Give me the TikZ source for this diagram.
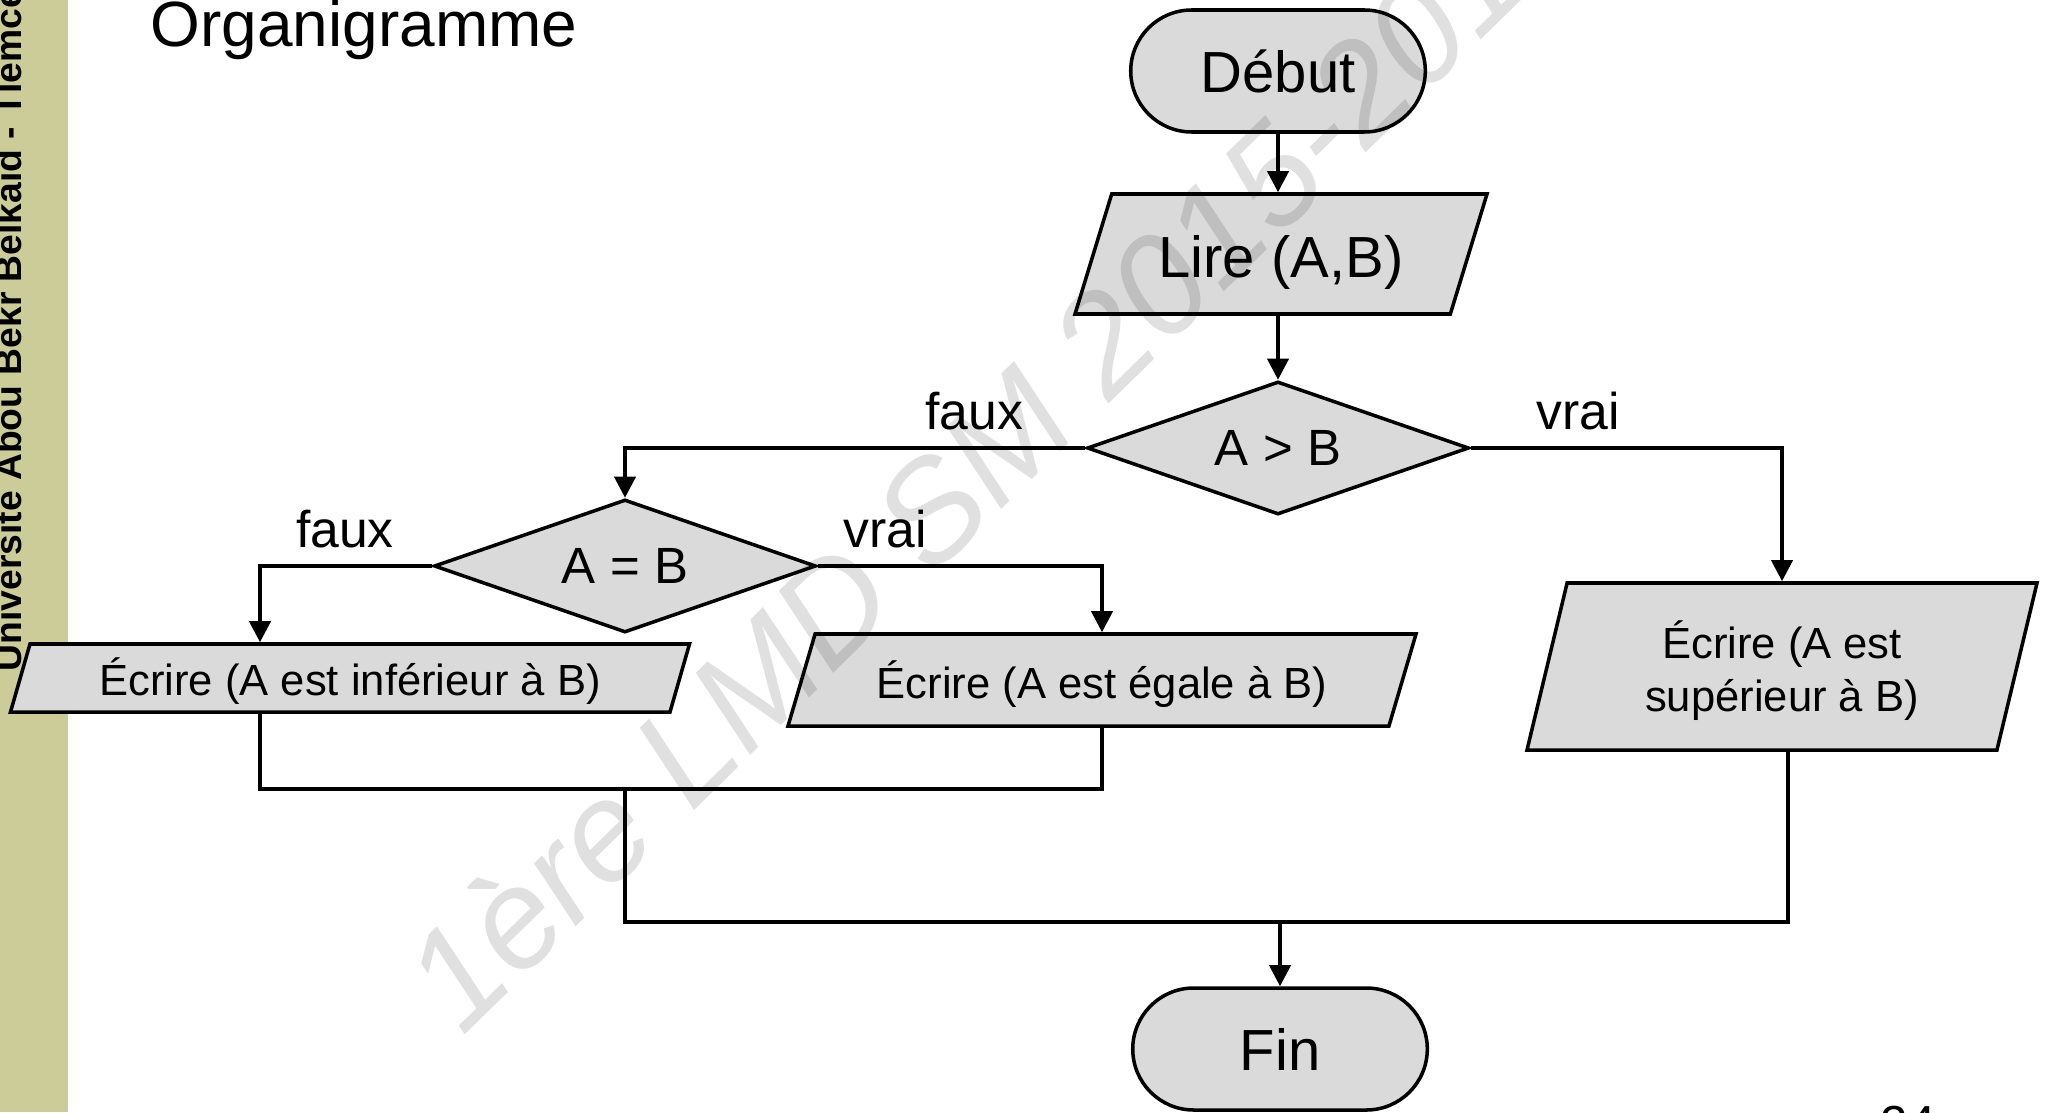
\documentclass[tikz,border=0pt]{standalone}
\usepackage{fontspec}
\setmainfont{Liberation Sans}
\usepackage{tikz}
\usetikzlibrary{shapes,arrows,arrows.meta,positioning}

\definecolor{sidebar}{RGB}{204,204,153}
\definecolor{boxgray}{RGB}{218,218,218}

\begin{document}
\begin{tikzpicture}
	\tikzstyle{Terminal}	= [rounded rectangle, draw, line width=1pt, fill=boxgray, minimum width=3.18cm, minimum height=1.22cm, font=\fontsize{16.5}{19}\selectfont]
	\tikzstyle{InOut}	= [trapezium, trapezium stretches body, draw, line width=1pt, fill=boxgray, inner sep=0pt, align=center]
	\tikzstyle{Decision}	= [diamond, aspect=2.87, draw, line width=1pt, fill=boxgray, minimum width=3.82cm, minimum height=1.33cm, inner sep=0pt, font=\fontsize{14.5}{17}\selectfont]
	\tikzstyle{Big}		= [font=\fontsize{16.5}{19}\selectfont]
	\tikzstyle{Small}	= [font=\fontsize{12.4}{14.9}\selectfont]
	\tikzstyle{Label}	= [anchor=base, font=\fontsize{14.7}{17}\selectfont]
	\tikzstyle{Flow}	= [line width=1.1pt]
	\tikzstyle{Arrow}	= [-{Triangle[width=6pt,length=6pt]}, line width=1.1pt]

	\useasboundingbox (0,0) rectangle (20.45,-11.12);
	\fill [sidebar] (0,0) rectangle (0.68,-11.12);
	\node (univ) at (0.21,-6.72) [rotate=90, anchor=base west, inner sep=0pt, font=\bfseries\fontsize{10.6}{12}\selectfont] {Université Abou Bekr Belkaid - Tlemcen};
	\node (title) at (1.50,-0.47) [anchor=base west, inner sep=0pt, font=\fontsize{18.2}{21}\selectfont] {Organigramme};

	\node (debut) at (12.78,-0.71) [Terminal] {Début};
	\node (lire) at (12.81,-2.54) [InOut][Big][trapezium left angle=73, trapezium right angle=107, minimum width=4.12cm, text height=0.84cm, text depth=0.36cm] {Lire (A,B)};
	\node (agtb) at (12.78,-4.48) [Decision] {A > B};
	\node (aeqb) at (6.25,-5.66) [Decision] {A = B};
	\node (inf) at (3.50,-6.78) [InOut][Small][trapezium left angle=74, trapezium right angle=106, minimum width=6.79cm, text height=0.51cm, text depth=0.17cm] {Écrire (A est inférieur à B)};
	\node (ega) at (11.02,-6.80) [InOut][Small][trapezium left angle=73.6, trapezium right angle=106.4, minimum width=6.28cm, text height=0.64cm, text depth=0.28cm] {Écrire (A est égale à B)};
	\node (sup) at (17.82,-6.665) [InOut][Small][trapezium left angle=76.5, trapezium right angle=103.5, minimum width=5.10cm, text height=1.28cm, text depth=0.39cm] {Écrire (A est\\supérieur à B)};
	\node (fin) at (12.80,-10.49) [Terminal] {Fin};

	\node (faux1) at (9.74,-4.29) [Label] {faux};
	\node (vrai1) at (15.78,-4.29) [Label] {vrai};
	\node (faux2) at (3.45,-5.47) [Label] {faux};
	\node (vrai2) at (8.85,-5.47) [Label] {vrai};

	% branch points
	\coordinate (infx) at (2.60,0);
	\coordinate (j1) at (2.60,-7.89);
	\coordinate (j2) at (11.02,-7.89);
	\coordinate (j3) at (6.25,-7.89);
	\coordinate (j4) at (6.25,-9.22);
	\coordinate (j5) at (17.88,-9.22);

	\draw [Arrow] (debut.south) -- (debut.south |- lire.north);
	\draw [Arrow] (lire.south -| agtb.north) -- (agtb.north);
	\draw [Arrow] (agtb.west) -| (aeqb.north);
	\draw [Arrow] (agtb.east) -| (sup.center |- sup.north);
	\draw [Arrow] (aeqb.west) -| (infx |- inf.north);
	\draw [Arrow] (aeqb.east) -| (ega.center |- ega.north);

	\draw [Flow] (j1 |- inf.south) -- (j1) -- (j2) -- (j2 |- ega.south);
	\draw [Flow] (j3) -- (j4) -- (j5) -- (j5 |- sup.south);
	\draw [Arrow] (j4 -| fin.north) -- (fin.north);

	\node (page) at (18.80,-11.05) [anchor=north west, inner sep=0pt, font=\fontsize{14}{16}\selectfont] {24};
	\node (mark) at (4.62,-10.38) [rotate=44.4, anchor=base west, inner sep=0pt, text=black, text opacity=0.12, font=\itshape\fontsize{40}{40}\selectfont] {1ère LMD SM 2015-2016};
\end{tikzpicture}
\end{document}
